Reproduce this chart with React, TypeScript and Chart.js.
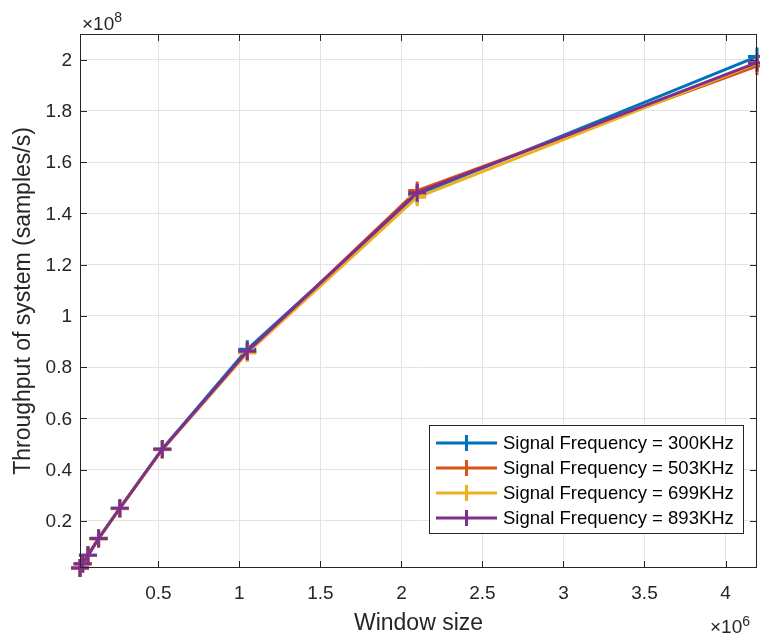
import React, { useEffect, useRef } from "react";
import { Chart, registerables } from "chart.js";

Chart.register(...registerables);

const windowSizes = [16384, 32768, 65536, 131072, 262144, 524288, 1048576, 2097152, 4194304];
const seriesLabels = [
  "Signal Frequency = 300KHz",
  "Signal Frequency = 503KHz",
  "Signal Frequency = 699KHz",
  "Signal Frequency = 893KHz",
];
const throughput300 = [1.65e6, 3.3e6, 6.6e6, 13.2e6, 25.0e6, 48.1e6, 87.0e6, 147.3e6, 201.2e6];
const throughput503 = [1.64e6, 3.28e6, 6.55e6, 13.1e6, 24.9e6, 47.9e6, 85.8e6, 148.9e6, 197.5e6];
const throughput699 = [1.64e6, 3.27e6, 6.5e6, 13.0e6, 24.8e6, 47.8e6, 85.5e6, 146.3e6, 198.5e6];
const throughput893 = [1.65e6, 3.29e6, 6.58e6, 13.15e6, 24.95e6, 48.0e6, 86.2e6, 148.1e6, 198.8e6];
const seriesColors = ["#0072BD", "#D95319", "#EDB120", "#7E2F8E"];
const xTicks = [0.5e6, 1e6, 1.5e6, 2e6, 2.5e6, 3e6, 3.5e6, 4e6];
const yTicks = [0.2e8, 0.4e8, 0.6e8, 0.8e8, 1e8, 1.2e8, 1.4e8, 1.6e8, 1.8e8, 2e8];
const xTickLabels = ["0.5", "1", "1.5", "2", "2.5", "3", "3.5", "4"];
const yTickLabels = ["0.2", "0.4", "0.6", "0.8", "1", "1.2", "1.4", "1.6", "1.8", "2"];
const xTitle = "Window size";
const yTitle = "Throughput of system (samples/s)";

const FONT = "'Liberation Sans', Arial, Helvetica, sans-serif";
const AX = "#262626";

const allSeries = [throughput300, throughput503, throughput699, throughput893];

const matlabPlugin = {
  id: "matlabAxes",
  afterDatasetsDraw(chart: any) {
    const { ctx, chartArea } = chart;
    const { left, right, top, bottom } = chartArea;
    const xs = chart.scales.x;
    const ys = chart.scales.y;
    ctx.save();
    ctx.strokeStyle = AX;
    ctx.lineWidth = 1;
    ctx.beginPath();
    const tl = 7;
    for (const v of xTicks) {
      const px = Math.round(xs.getPixelForValue(v)) + 0.5;
      ctx.moveTo(px, bottom);
      ctx.lineTo(px, bottom - tl);
      ctx.moveTo(px, top);
      ctx.lineTo(px, top + tl);
    }
    for (const v of yTicks) {
      const py = Math.round(ys.getPixelForValue(v)) + 0.5;
      ctx.moveTo(left, py);
      ctx.lineTo(left + tl, py);
      ctx.moveTo(right, py);
      ctx.lineTo(right - tl, py);
    }
    ctx.stroke();
    ctx.strokeRect(left + 0.5, top + 0.5, right - left - 1, bottom - top - 1);

    ctx.fillStyle = AX;
    ctx.font = `19px ${FONT}`;
    ctx.textAlign = "center";
    ctx.textBaseline = "middle";
    xTicks.forEach((v, i) => {
      ctx.fillText(xTickLabels[i], xs.getPixelForValue(v), 594);
    });
    ctx.textAlign = "right";
    yTicks.forEach((v, i) => {
      ctx.fillText(yTickLabels[i], 72, ys.getPixelForValue(v) + 1);
    });

    ctx.textBaseline = "alphabetic";
    ctx.textAlign = "left";
    ctx.font = `19px ${FONT}`;
    ctx.fillText("\u00d710", left + 2, top - 4);
    let w = ctx.measureText("\u00d710").width;
    ctx.font = `14px ${FONT}`;
    ctx.fillText("8", left + 2 + w, top - 12);

    ctx.font = `19px ${FONT}`;
    const bx = 710;
    ctx.fillText("\u00d710", bx, 633);
    w = ctx.measureText("\u00d710").width;
    ctx.font = `14px ${FONT}`;
    ctx.fillText("6", bx + w, 626);

    ctx.font = `23px ${FONT}`;
    ctx.textAlign = "center";
    ctx.fillText(xTitle, (left + right) / 2, 630);
    ctx.save();
    ctx.translate(30, (top + bottom) / 2);
    ctx.rotate(-Math.PI / 2);
    ctx.fillText(yTitle, 0, 0);
    ctx.restore();

    const lx = 429, ly = 425, lw = 314, lh = 108;
    ctx.fillStyle = "#ffffff";
    ctx.fillRect(lx, ly, lw, lh);
    ctx.strokeStyle = AX;
    ctx.lineWidth = 1;
    ctx.strokeRect(lx + 0.5, ly + 0.5, lw, lh);
    seriesLabels.forEach((lab, i) => {
      const ry = 443 + i * 25;
      ctx.strokeStyle = seriesColors[i];
      ctx.lineWidth = 3;
      ctx.beginPath();
      ctx.moveTo(436, ry);
      ctx.lineTo(497, ry);
      ctx.moveTo(466.5, ry - 8);
      ctx.lineTo(466.5, ry + 8);
      ctx.stroke();
      ctx.fillStyle = "#000000";
      ctx.font = `18.5px ${FONT}`;
      ctx.textAlign = "left";
      ctx.textBaseline = "middle";
      ctx.fillText(lab, 503, ry + 1);
    });
    ctx.restore();
  },
};

export default function App() {
  const ref = useRef<HTMLCanvasElement | null>(null);
  useEffect(() => {
    if (!ref.current) return;
    const datasets = allSeries.map((s, i) => ({
      label: seriesLabels[i],
      data: windowSizes.map((x, j) => ({ x, y: s[j] })),
      borderColor: seriesColors[i],
      backgroundColor: seriesColors[i],
      borderWidth: 3,
      pointStyle: "cross" as const,
      pointRadius: 9,
      pointBorderWidth: 3,
      pointHoverRadius: 9,
      fill: false,
      tension: 0,
      order: 3 - i,
      clip: false as any,
    }));
    const chart = new Chart(ref.current, {
      type: "line",
      data: { datasets },
      plugins: [matlabPlugin],
      options: {
        animation: false,
        responsive: false,
        events: [],
        layout: { autoPadding: false, padding: { top: 34, right: 3, left: 0, bottom: 0 } },
        plugins: { legend: { display: false }, tooltip: { enabled: false } },
        scales: {
          x: {
            type: "linear",
            min: 16384,
            max: 4194304,
            afterBuildTicks: (s: any) => {
              s.ticks = xTicks.map((v) => ({ value: v }));
            },
            afterFit: (s: any) => {
              s.height = 72;
            },
            ticks: { display: false },
            grid: { color: "#e3e3e3", drawTicks: false },
            border: { display: false },
          },
          y: {
            type: "linear",
            min: 1.64e6,
            max: 2.1e8,
            afterBuildTicks: (s: any) => {
              s.ticks = yTicks.map((v) => ({ value: v }));
            },
            afterFit: (s: any) => {
              s.width = 80;
            },
            ticks: { display: false },
            grid: { color: "#e3e3e3", drawTicks: false },
            border: { display: false },
          },
        },
      },
    });
    return () => chart.destroy();
  }, []);
  return (
    <div style={{ position: "absolute", left: 0, top: 0, width: 760, height: 640, background: "#fff" }}>
      <canvas ref={ref} width={760} height={640} style={{ display: "block" }} />
    </div>
  );
}
